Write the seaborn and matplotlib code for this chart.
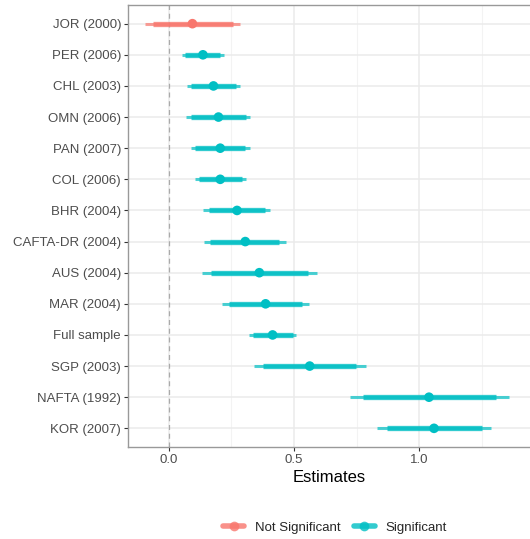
import pandas as pd
import matplotlib.pyplot as plt
import seaborn as sns
from matplotlib.lines import Line2D
from matplotlib.ticker import MultipleLocator

# Données (estimations, IC 90% épais, IC 95% fin)
labels = ['JOR (2000)', 'PER (2006)', 'CHL (2003)', 'OMN (2006)', 'PAN (2007)',
          'COL (2006)', 'BHR (2004)', 'CAFTA-DR (2004)', 'AUS (2004)', 'MAR (2004)',
          'Full sample', 'SGP (2003)', 'NAFTA (1992)', 'KOR (2007)']
estimates = [0.095, 0.137, 0.179, 0.199, 0.206, 0.206, 0.273, 0.306, 0.362, 0.387,
             0.415, 0.563, 1.039, 1.059]
thick_lo = [-0.063, 0.066, 0.089, 0.089, 0.106, 0.123, 0.161, 0.166, 0.169, 0.241,
            0.335, 0.377, 0.775, 0.870]
thick_hi = [0.255, 0.206, 0.270, 0.309, 0.306, 0.291, 0.386, 0.442, 0.555, 0.533,
            0.495, 0.749, 1.306, 1.249]
thin_lo = [-0.093, 0.053, 0.073, 0.069, 0.089, 0.106, 0.139, 0.142, 0.133, 0.215,
           0.319, 0.339, 0.722, 0.833]
thin_hi = [0.286, 0.222, 0.286, 0.326, 0.323, 0.309, 0.406, 0.470, 0.593, 0.562,
           0.510, 0.786, 1.357, 1.286]
significance = ['Not Significant'] + ['Significant'] * 13

PALETTE = {'Not Significant': '#F8766D', 'Significant': '#00BFC4'}

df = pd.DataFrame({'label': labels, 'estimate': estimates,
                   'thick_lo': thick_lo, 'thick_hi': thick_hi,
                   'thin_lo': thin_lo, 'thin_hi': thin_hi, 'sig': significance})
df['pos'] = range(len(df))

sns.set_theme(style='white')
plt.rcParams['font.family'] = ['Liberation Sans', 'DejaVu Sans']

fig = plt.figure(figsize=(5.30, 5.39), dpi=100)
ax = fig.add_axes([128 / 530, 92 / 539, 403 / 530, 442 / 539])

# grille façon theme_bw
for x in [0.25, 0.75, 1.25]:
    ax.axvline(x, color='#F3F3F3', lw=0.8, zorder=0)
for x in [0.0, 0.5, 1.0]:
    ax.axvline(x, color='#EBEBEB', lw=1.1, zorder=0)
for p in df['pos']:
    ax.axhline(p, color='#EBEBEB', lw=1.1, zorder=0)
ax.axvline(0, color='#AAAAAA', lw=0.9, ls=(0, (4, 3)), zorder=1)

# intervalles : fin (large) puis épais (étroit)
for sig, sub in df.groupby('sig'):
    c = PALETTE[sig]
    ax.hlines(sub['pos'], sub['thin_lo'], sub['thin_hi'], color=c, lw=2.2, alpha=0.7, zorder=2)
    ax.hlines(sub['pos'], sub['thick_lo'], sub['thick_hi'], color=c, lw=3.8, alpha=0.8, zorder=3)

sns.scatterplot(data=df, x='estimate', y='pos', hue='sig', palette=PALETTE,
                s=48, edgecolor='none', legend=False, ax=ax, zorder=4)

ax.set_xlim(-0.162, 1.446)
ax.set_ylim(len(df) - 0.4, -0.6)
ax.set_yticks(df['pos'])
ax.set_yticklabels(df['label'])
ax.xaxis.set_major_locator(MultipleLocator(0.5))
ax.xaxis.set_major_formatter(plt.FuncFormatter(lambda v, _: f'{v:.1f}'))
ax.set_ylabel('')
ax.set_xlabel('Estimates', fontsize=12, color='black', labelpad=3)
ax.tick_params(axis='both', labelsize=9.5, labelcolor='#4D4D4D', length=3,
               width=0.8, color='#333333', left=True, bottom=True, pad=2)

for side in ['left', 'bottom', 'top', 'right']:
    ax.spines[side].set_color('#999999')
    ax.spines[side].set_linewidth(1.0)

handles = [Line2D([0], [0], color=PALETTE[k], lw=4, alpha=0.8, marker='o',
                  markersize=7, markeredgewidth=0) for k in PALETTE]
fig.legend(handles, list(PALETTE.keys()), loc='center', ncol=2,
           bbox_to_anchor=(0.632, 0.021), frameon=False, fontsize=9.5,
           handlelength=1.6, columnspacing=1.0, handletextpad=0.8)

fig.savefig('out.png', dpi=100)
